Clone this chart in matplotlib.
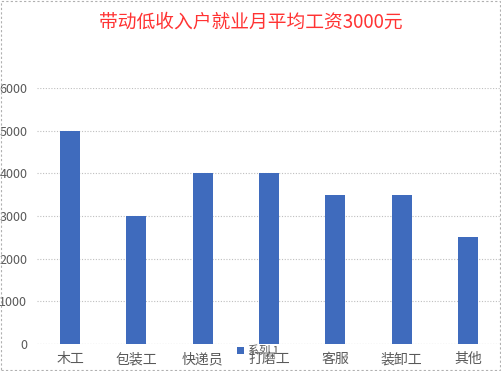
import matplotlib
matplotlib.use("Agg")
import matplotlib.pyplot as plt
from matplotlib.patches import Rectangle

plt.rcParams['font.family'] = ['Noto Sans CJK SC', 'DejaVu Sans']

categories = ['木工', '包装工', '快递员', '打磨工', '客服', '装卸工', '其他']
values = [5000, 3000, 4000, 4000, 3500, 3500, 2500]
yticks = [0, 1000, 2000, 3000, 4000, 5000, 6000]

fig = plt.figure(figsize=(5.02, 3.71), dpi=100)
ax = fig.add_axes([37 / 502, 1 - 344 / 371, 464 / 502, 256 / 371])

x = list(range(len(categories)))
ax.bar(x, values, width=0.3, color='#3f6bbd', label='系列 1', zorder=3)

ax.set_xlim(-0.5, len(categories) - 0.5)
ax.set_ylim(0, 6000)
ax.set_yticks(yticks)
ax.set_xticks(x)
ax.set_xticklabels(categories, fontsize=10, color='#595959')
ax.tick_params(axis='y', labelsize=9, colors='#595959', length=0, pad=7)
ax.tick_params(axis='x', length=0, pad=6)
ax.grid(axis='y', color='#bfbfbf', linestyle=(0, (1, 1.5)), linewidth=0.8, zorder=0)
for s in ax.spines.values():
    s.set_visible(False)
ax.axhline(0, color='#bfbfbf', linestyle=(0, (1, 1.5)), linewidth=0.8, zorder=1)

# legend sits over the axis labels, as in the original
ax.legend(loc='center', bbox_to_anchor=(258 / 502, 1 - 351 / 371), bbox_transform=fig.transFigure,
          frameon=False, fontsize=8, handlelength=0.6, handleheight=0.6, handletextpad=0.4,
          labelcolor='#595959')

fig.text(0.5, 1 - 22 / 371, '带动低收入户就业月平均工资3000元', ha='center', va='center',
         fontsize=13.5, color='#ff3333')

# dashed outer border
fig.patches.append(Rectangle((0.002, 0.003), 0.995, 0.994, transform=fig.transFigure,
                             fill=False, edgecolor='#b0b0b0', linestyle=(0, (2, 2)), linewidth=0.8))

fig.savefig('out.png', dpi=100)
